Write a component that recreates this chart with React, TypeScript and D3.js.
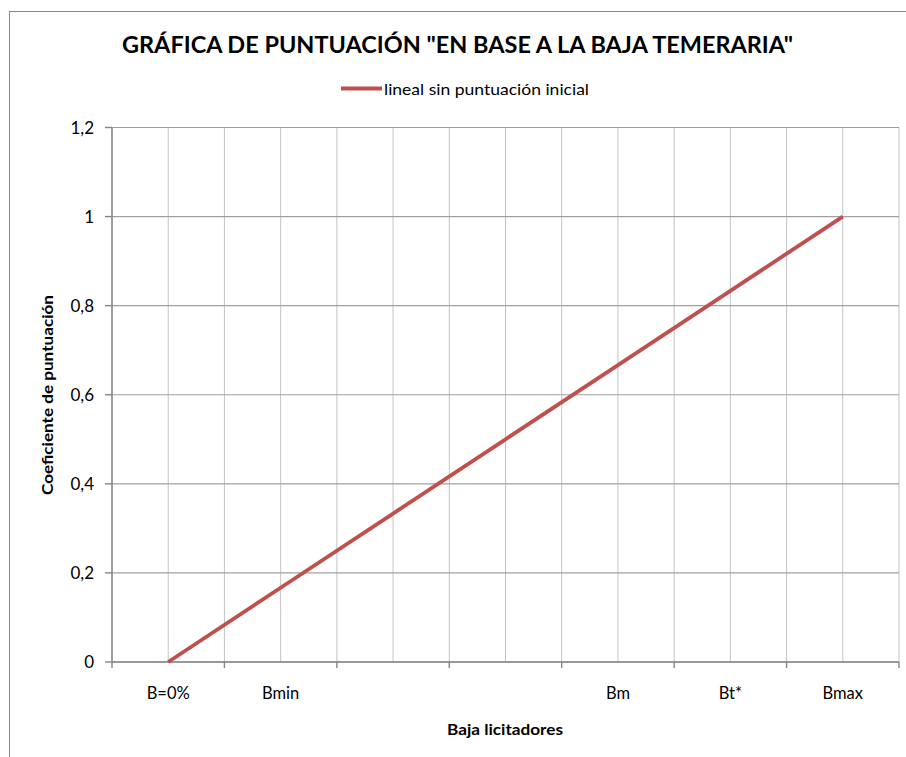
import React from "react";
import * as d3 from "d3";

const categories: string[] = ["B=0%", "Bmin", "", "", "Bm", "Bt*", "Bmax"];
const values: number[] = [0, 0.1667, 0.3333, 0.5, 0.6667, 0.8333, 1];
const yTicks: number[] = [0, 0.2, 0.4, 0.6, 0.8, 1, 1.2];
const seriesName = "lineal sin puntuación inicial";
const title = 'GRÁFICA DE PUNTUACIÓN "EN BASE A LA BAJA TEMERARIA"';
const xTitle = "Baja licitadores";
const yTitle = "Coeficiente de puntuación";

const W = 906;
const H = 757;
const FONT = "Lato, 'Open Sans', sans-serif";

export default function App() {
  const left = 112, right = 899, top = 127.5, bottom = 662;
  const x = d3
    .scaleBand<number>()
    .domain(categories.map((_, i) => i))
    .range([left, right])
    .paddingInner(0)
    .paddingOuter(0);
  const bw = x.bandwidth();
  const cx = (i: number) => (x(i) as number) + bw / 2;
  const y = d3.scaleLinear().domain([0, 1.2]).range([bottom, top]);

  const boundaries = d3.range(categories.length + 1).map((i) => left + i * bw);
  const centers = categories.map((_, i) => cx(i));
  const vGrid = [...boundaries.slice(1), ...centers];

  const line = d3
    .line<number>()
    .x((_, i) => cx(i))
    .y((d) => y(d));

  const fmt = (v: number) => d3.format("")(+v.toFixed(1)).replace(".", ",");

  return (
    <svg
      width={W}
      height={H}
      style={{ position: "absolute", left: 0, top: 0, background: "#fff" }}
      fontFamily={FONT}
    >
      <rect x={0} y={0} width={W} height={H} fill="#fff" />
      <rect x={9.5} y={11.5} width={W + 20} height={H + 20} fill="#fff" stroke="#878787" strokeWidth={1} />

      {/* vertical gridlines */}
      {vGrid.map((gx, i) => (
        <line key={"v" + i} x1={gx} x2={gx} y1={top} y2={bottom} stroke="#c4c4c4" strokeWidth={1} />
      ))}
      {/* horizontal gridlines */}
      {yTicks.map((t) => (
        <line key={"h" + t} x1={left} x2={right} y1={y(t)} y2={y(t)} stroke="#a0a0a0" strokeWidth={1.2} />
      ))}

      {/* axes */}
      <line x1={left} x2={left} y1={top} y2={bottom} stroke="#868686" strokeWidth={1.6} />
      <line x1={left} x2={right} y1={bottom} y2={bottom} stroke="#868686" strokeWidth={1.6} />
      {yTicks.map((t) => (
        <line key={"yt" + t} x1={left - 7} x2={left} y1={y(t)} y2={y(t)} stroke="#868686" strokeWidth={1.4} />
      ))}
      {d3.range(0, categories.length + 1, 1).map((i) => (
        <line key={"xt" + i} x1={boundaries[i]} x2={boundaries[i]} y1={bottom} y2={bottom + 6} stroke="#868686" strokeWidth={1.4} />
      ))}

      {/* y tick labels */}
      {yTicks.map((t) => (
        <text key={"yl" + t} x={94} y={y(t)} dy="0.36em" textAnchor="end" fontSize={17} fill="#000">
          {fmt(t)}
        </text>
      ))}
      {/* x tick labels */}
      {categories.map((c, i) => (
        <text key={"xl" + i} x={cx(i)} y={699} textAnchor="middle" fontSize={16.5} fill="#000">
          {c}
        </text>
      ))}

      {/* series */}
      <path d={line(values) || ""} fill="none" stroke="#c0504d" strokeWidth={3.8} strokeLinecap="butt" />

      {/* title */}
      <text x={457.5} y={52.5} textAnchor="middle" fontSize={23.5} fontWeight="bold" fill="#000" textLength={671} lengthAdjust="spacingAndGlyphs">
        {title}
      </text>

      {/* legend */}
      <line x1={341} x2={382} y1={88.5} y2={88.5} stroke="#c0504d" strokeWidth={3.8} />
      <text x={384} y={95} fontSize={16} fill="#000" textLength={205} lengthAdjust="spacingAndGlyphs">
        {seriesName}
      </text>

      {/* axis titles */}
      <text x={505} y={735} textAnchor="middle" fontSize={15.5} fontWeight="bold" fill="#000" textLength={116} lengthAdjust="spacingAndGlyphs">
        {xTitle}
      </text>
      <text
        transform={`translate(53,395) rotate(-90)`}
        textAnchor="middle"
        fontSize={15}
        fontWeight="bold"
        fill="#000"
        textLength={200}
        lengthAdjust="spacingAndGlyphs"
      >
        {yTitle}
      </text>
    </svg>
  );
}
